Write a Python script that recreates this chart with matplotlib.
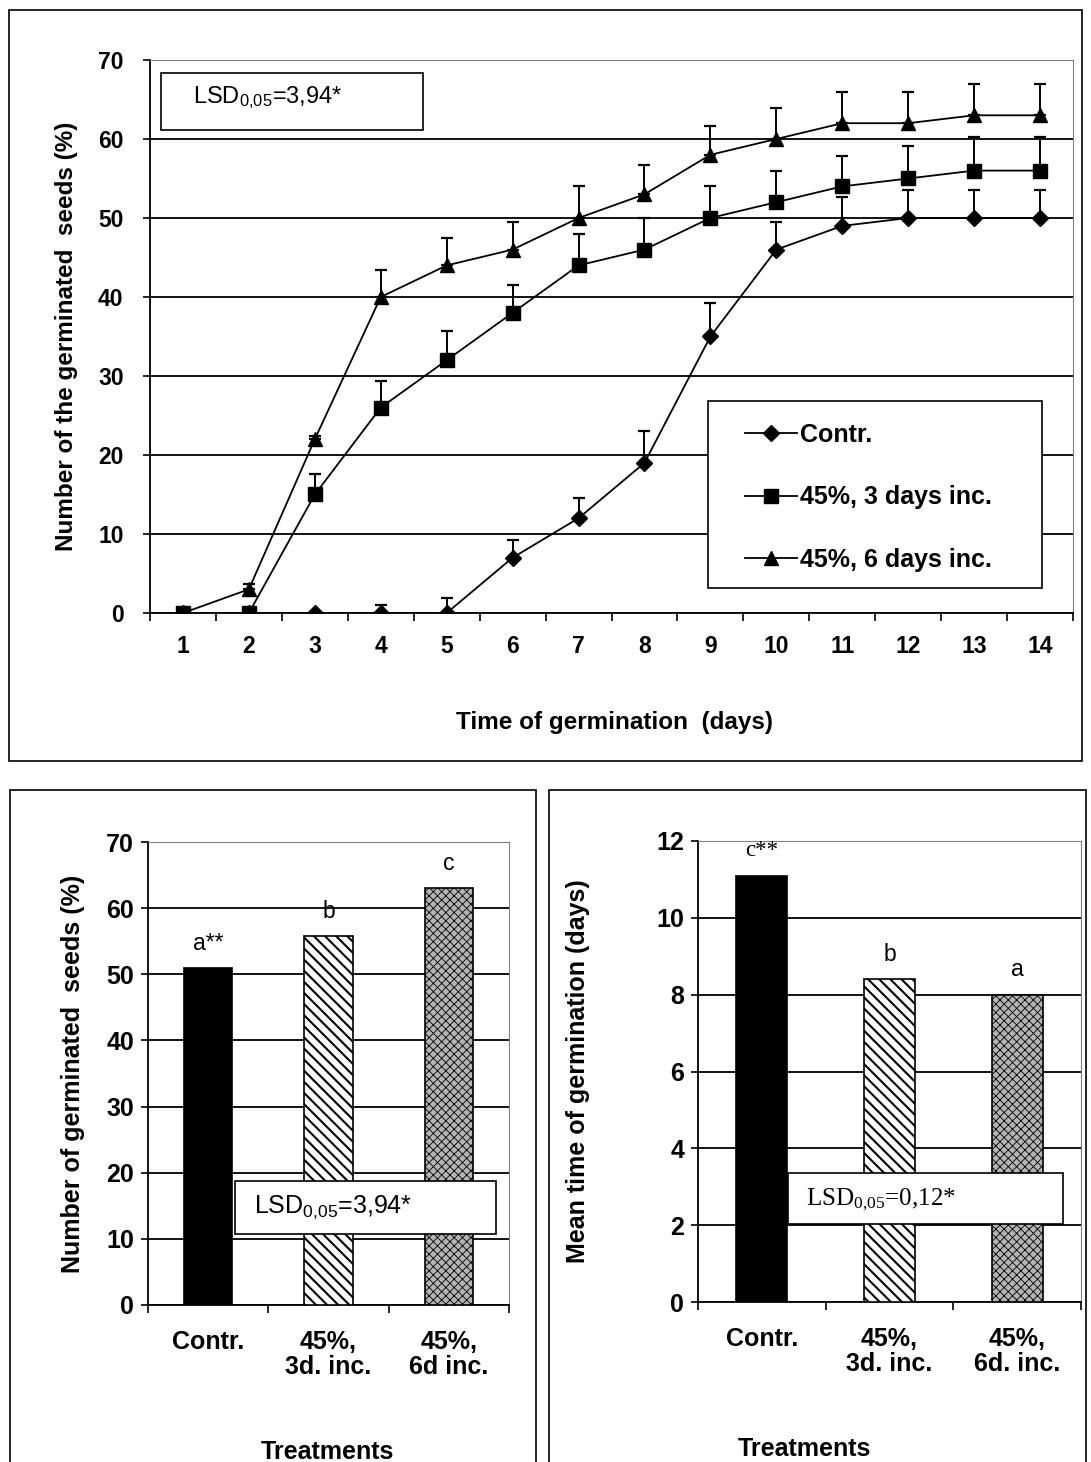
import numpy as np
import matplotlib
matplotlib.use('Agg')
import matplotlib.pyplot as plt
from matplotlib.patches import Rectangle

plt.rcParams['font.family'] = ['Liberation Sans', 'DejaVu Sans']
plt.rcParams['mathtext.default'] = 'regular'

# ---- germination course data ----
days = [1, 2, 3, 4, 5, 6, 7, 8, 9, 10, 11, 12, 13, 14]
contr = [0, 0, 0, 0, 0, 7, 12, 19, 35, 46, 49, 50, 50, 50]
contr_err = [0, 0, 0, 1, 1.9, 2.3, 2.6, 4, 4.2, 3.5, 3.7, 3.6, 3.6, 3.6]
inc3 = [0, 0, 15, 26, 32, 38, 44, 46, 50, 52, 54, 55, 56, 56]
inc3_err = [0, 0, 2.6, 3.4, 3.7, 3.5, 4, 4, 4, 4, 3.9, 4.1, 4.2, 4.2]
inc6 = [0, 3, 22, 40, 44, 46, 50, 53, 58, 60, 62, 62, 63, 63]
inc6_err = [0, 0.7, 0.4, 3.4, 3.5, 3.5, 4, 3.7, 3.7, 3.9, 3.9, 3.9, 3.9, 3.9]
series_labels = ['Contr.', '45%, 3 days inc.', '45%, 6 days inc.']

# ---- bar chart data ----
treat_left = ['Contr.', '45%,\n3d. inc.', '45%,\n6d inc.']
treat_right = ['Contr.', '45%,\n3d. inc.', '45%,\n6d. inc.']
germ_pct = [51, 55.8, 63]
germ_letters = ['a**', 'b', 'c']
mean_time = [11.1, 8.4, 8.0]
time_letters = ['c**', 'b', 'a']

W, H = 1091, 1462
fig = plt.figure(figsize=(W / 100, H / 100), dpi=100)


def px_rect(x0, y0, x1, y1):
    # figure-fraction rect from a pixel box (top-left origin)
    return [x0 / W, 1 - y1 / H, (x1 - x0) / W, (y1 - y0) / H]


def px_frame(x0, y0, x1, y1):
    r = px_rect(x0, y0, x1, y1)
    fig.add_artist(Rectangle((r[0], r[1]), r[2], r[3], transform=fig.transFigure,
                             fill=False, edgecolor='black', linewidth=1.2, clip_on=False))


# outer frames
px_frame(9, 10, 1082, 761)
px_frame(10, 790, 536, 1475)
px_frame(549, 790, 1086, 1475)


def style_axes(ax):
    for s in ['top', 'right']:
        ax.spines[s].set_color('#808080')
    for s in ['left', 'bottom']:
        ax.spines[s].set_color('black')
        ax.spines[s].set_linewidth(1.3)
    ax.set_axisbelow(True)
    ax.yaxis.grid(True, color='black', linewidth=1.3)
    ax.xaxis.grid(False)


# ================= top: germination course =================
ax = fig.add_axes(px_rect(150, 60, 1073, 613))
style_axes(ax)
ax.set_xlim(0.5, 14.5)
ax.set_ylim(0, 70)
ax.set_yticks(range(0, 71, 10))
ax.set_xticks(days)
ax.set_xticks(np.arange(0.5, 15, 1), minor=True)
ax.tick_params(axis='x', which='major', length=0, pad=16, labelsize=16.5)
ax.tick_params(axis='x', which='minor', length=6, width=1.2, direction='out')
ax.tick_params(axis='y', length=5, width=1.2, pad=14, labelsize=16.5)
for lab in ax.get_xticklabels() + ax.get_yticklabels():
    lab.set_fontweight('bold')

x = np.array(days)
markers = ['D', 's', '^']
msizes = [8.5, 9.5, 10]
handles = []
for vals, errs, mk, ms, lab in zip([contr, inc3, inc6], [contr_err, inc3_err, inc6_err],
                                   markers, msizes, series_labels):
    vals = np.array(vals, dtype=float)
    errs = np.array(errs, dtype=float)
    m = errs > 0
    ax.errorbar(x[m], vals[m], yerr=[np.zeros(m.sum()), errs[m]], fmt='none',
                ecolor='black', elinewidth=1.4, capsize=4.5, capthick=1.6, zorder=3)
    h, = ax.plot(x, vals, color='black', linewidth=1.3, marker=mk, markersize=ms,
                 markerfacecolor='black', markeredgecolor='black', label=lab, zorder=4)
    handles.append(h)

ax.set_xlabel('Time of germination  (days)', fontsize=17.5, fontweight='bold')
ax.xaxis.set_label_coords(0.503, -0.178)
ax.set_ylabel('Number of the germinated  seeds (%)', fontsize=17.5, fontweight='bold')
ax.yaxis.set_label_coords(-0.078, 0.5)

ax.add_patch(Rectangle((0.012, 61.1), 0.284, 7.2, transform=ax.get_yaxis_transform(),
                       facecolor='white', edgecolor='black', linewidth=1.2, zorder=5))
ax.text(0.047, 65.2, 'LSD$_{0{,}05}$=3,94*', transform=ax.get_yaxis_transform(),
        fontsize=17, va='center', ha='left', zorder=6)

# legend box drawn as a plain rectangle, entries placed inside it
ax.add_patch(Rectangle((708 / W, 1 - 588 / H), (1042 - 708) / W, (588 - 401) / H,
                       transform=fig.transFigure, facecolor='white', edgecolor='black',
                       linewidth=1.2, zorder=8, clip_on=False))
leg = ax.legend(handles=handles, loc='upper left', bbox_to_anchor=(745 / W, 1 - 423 / H),
                bbox_transform=fig.transFigure, frameon=False, borderpad=0,
                labelspacing=1.53, handlelength=2.1, handletextpad=0.1, numpoints=1,
                borderaxespad=0, prop={'size': 18, 'weight': 'bold'})
leg.set_zorder(10)


# ================= bottom bar charts =================
def bar_panel(rect, values, labels, letters, ylim, step, ylabel, ylabel_x, xlabel_x,
              lsd_text, lsd_box, lsd_xy, lsd_font, letter_off, letter_fonts):
    ax = fig.add_axes(rect)
    style_axes(ax)
    pos = np.arange(len(values))
    ax.set_xlim(-0.5, len(values) - 0.5)
    ax.set_ylim(*ylim)
    ax.set_yticks(np.arange(ylim[0], ylim[1] + step / 2, step))
    ax.set_xticks(pos)
    ax.set_xticklabels(labels)
    ax.set_xticks(np.arange(-0.5, len(values), 1), minor=True)
    ax.tick_params(axis='x', which='major', length=0, pad=18, labelsize=18)
    ax.tick_params(axis='x', which='minor', length=6, width=1.2, direction='out')
    ax.tick_params(axis='y', length=5, width=1.2, pad=5, labelsize=18)
    for lab in ax.get_xticklabels() + ax.get_yticklabels():
        lab.set_fontweight('bold')
        lab.set_linespacing(1.05)

    fills = [dict(facecolor='black', hatch=None, hlw=1.0),
             dict(facecolor='white', hatch='\\\\\\', hlw=1.5),
             dict(facecolor='#b4b4b4', hatch='xxxx', hlw=0.6)]
    for p, v, f in zip(pos, values, fills):
        with plt.rc_context({'hatch.linewidth': f['hlw']}):
            bars = ax.bar(p, v, width=0.4, edgecolor='black', linewidth=1.2, zorder=3,
                          facecolor=f['facecolor'], hatch=f['hatch'])
        for b in bars:
            if hasattr(b, 'set_hatch_linewidth'):
                b.set_hatch_linewidth(f['hlw'])
    for p, v, t, fam in zip(pos, values, letters, letter_fonts):
        ax.text(p, v + letter_off, t, ha='center', va='center', fontsize=16.5,
                family=fam, clip_on=False, zorder=6)

    bx0, bx1, by0, by1 = lsd_box
    ax.add_patch(Rectangle((bx0, by0), bx1 - bx0, by1 - by0, transform=ax.get_yaxis_transform(),
                           facecolor='white', edgecolor='black', linewidth=1.2, zorder=5))
    ax.text(lsd_xy[0], lsd_xy[1], lsd_text, transform=ax.get_yaxis_transform(),
            fontsize=18, ha='left', va='center', family=lsd_font, zorder=6)

    ax.set_ylabel(ylabel, fontsize=18, fontweight='bold')
    ax.yaxis.set_label_coords(ylabel_x, 0.5)
    ax.set_xlabel('Treatments', fontsize=18, fontweight='bold')
    ax.xaxis.set_label_coords(xlabel_x, -0.292)
    return ax


bar_panel(px_rect(148, 842, 509, 1305), germ_pct, treat_left, germ_letters, (0, 70), 10,
          'Number of germinated  seeds (%)', -0.175, 0.496,
          'LSD$_{0{,}05}$=3,94*', (0.241, 0.964, 10.7, 18.8), (0.294, 14.7),
          ['Liberation Sans', 'DejaVu Sans'], 3.7,
          [['Liberation Sans']] * 3)

bar_panel(px_rect(698, 841, 1081, 1302), mean_time, treat_right, time_letters, (0, 12), 2,
          'Mean time of germination (days)', -0.282, 0.277,
          'LSD$_{0{,}05}$=0,12*', (0.235, 0.953, 2.03, 3.36), (0.282, 2.65),
          ['Liberation Serif', 'DejaVu Serif'], 0.65,
          [['Liberation Serif'], ['Liberation Sans'], ['Liberation Sans']])

fig.savefig('out.png', dpi=100)
